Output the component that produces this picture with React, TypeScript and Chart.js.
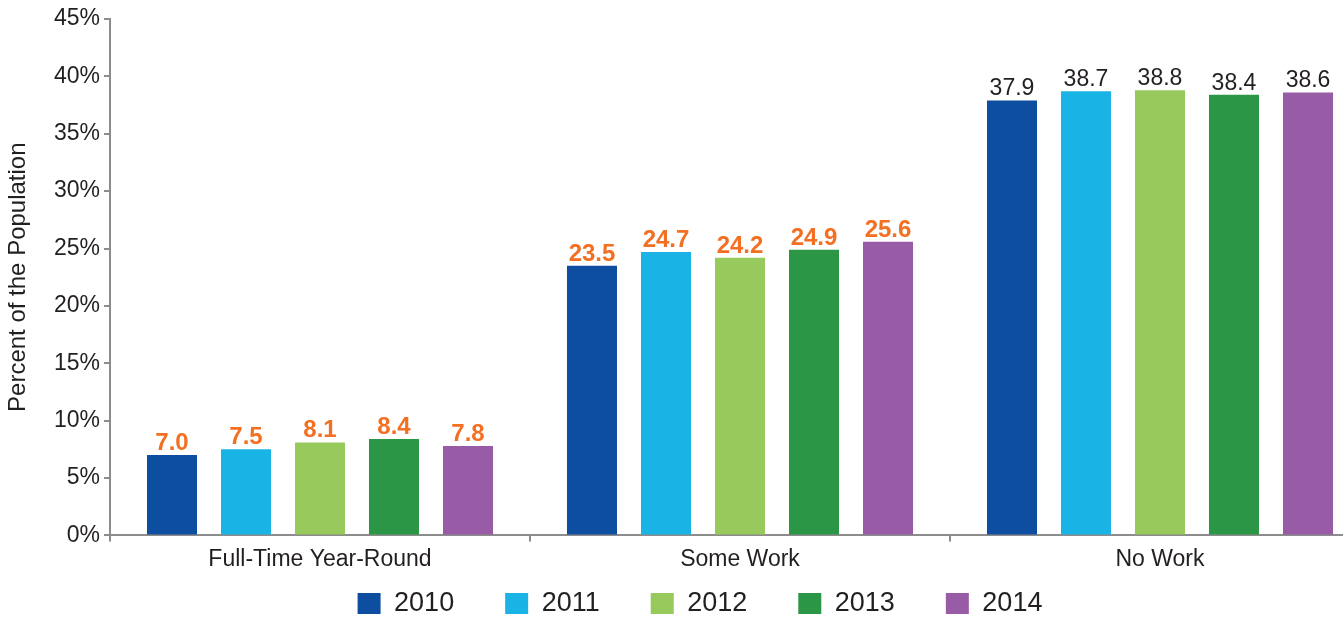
import React, { useEffect, useRef } from "react";
import { Chart, registerables } from "chart.js";

Chart.register(...registerables);

const categories = ["Full-Time Year-Round", "Some Work", "No Work"];
const years = ["2010", "2011", "2012", "2013", "2014"];
const values2010 = [7.0, 23.5, 37.9];
const values2011 = [7.5, 24.7, 38.7];
const values2012 = [8.1, 24.2, 38.8];
const values2013 = [8.4, 24.9, 38.4];
const values2014 = [7.8, 25.6, 38.6];
const seriesValues = [values2010, values2011, values2012, values2013, values2014];
const seriesColors = ["#0d4ea0", "#1ab3e6", "#97c95c", "#2c9647", "#985ca6"];
const yTicks = [0, 5, 10, 15, 20, 25, 30, 35, 40, 45];

const TEXT = "#231f20";
const AXIS = "#8c8c8c";
const ORANGE = "#f36f21";
const LEGEND_PAD = 51;

const valueLabels = {
  id: "valueLabels",
  afterDatasetsDraw(chart: any) {
    const ctx = chart.ctx;
    ctx.save();
    ctx.textAlign = "center";
    ctx.textBaseline = "alphabetic";
    chart.data.datasets.forEach((ds: any, di: number) => {
      const meta = chart.getDatasetMeta(di);
      meta.data.forEach((el: any, i: number) => {
        const v = ds.data[i];
        if (i < 2) {
          ctx.fillStyle = ORANGE;
          ctx.font = "bold 24px 'Liberation Sans', Arial, sans-serif";
        } else {
          ctx.fillStyle = TEXT;
          ctx.font = "23px 'Liberation Sans', Arial, sans-serif";
        }
        ctx.fillText(v.toFixed(1), el.x, el.y - 5);
      });
    });
    ctx.restore();
  },
};

const shiftLegend = {
  id: "shiftLegend",
  afterLayout(chart: any) {
    const lg = chart.legend;
    if (lg) {
      lg.left += 15;
      lg.right += 15;
      lg.top -= LEGEND_PAD - 13;
    }
  },
};

export default function App() {
  const ref = useRef<HTMLCanvasElement>(null);
  useEffect(() => {
    if (!ref.current) return;
    Chart.defaults.font.family = "'Liberation Sans', Arial, sans-serif";
    const chart = new Chart(ref.current, {
      type: "bar",
      data: {
        labels: categories,
        datasets: years.map((y, i) => ({
          label: y,
          data: seriesValues[i],
          backgroundColor: seriesColors[i],
          borderWidth: 0,
          categoryPercentage: 0.881,
          barPercentage: 0.676,
        })),
      },
      options: {
        responsive: false,
        animation: false,
        layout: { padding: { top: 19, right: 10, bottom: 4, left: 0 } },
        plugins: {
          legend: {
            position: "bottom",
            maxHeight: 38,
            labels: {
              boxWidth: 23,
              boxHeight: 21,
              padding: LEGEND_PAD,
              color: TEXT,
              font: { size: 27 },
            },
          },
          tooltip: { enabled: false },
        },
        scales: {
          x: {
            grid: {
              display: true,
              drawOnChartArea: false,
              drawTicks: true,
              tickLength: 6,
              color: AXIS,
              lineWidth: 2,
            },
            border: { display: true, color: AXIS, width: 2 },
            ticks: { color: TEXT, font: { size: 23 }, padding: 4 },
          },
          y: {
            min: 0,
            max: 45,
            afterFit: (s: any) => {
              s.width = 110;
            },
            afterBuildTicks: (s: any) => {
              s.ticks = yTicks.map((v) => ({ value: v }));
            },
            grid: {
              display: true,
              drawOnChartArea: false,
              drawTicks: true,
              tickLength: 6,
              color: AXIS,
              lineWidth: 2,
            },
            border: { display: true, color: AXIS, width: 2 },
            ticks: {
              color: TEXT,
              font: { size: 23 },
              padding: 4,
              callback: (v: any) => v + "%",
            },
            title: {
              display: true,
              text: "Percent of the Population",
              color: TEXT,
              font: { size: 24 },
              padding: { top: 4, bottom: 10 },
            },
          },
        },
      },
      plugins: [valueLabels, shiftLegend],
    });
    return () => chart.destroy();
  }, []);
  return (
    <div style={{ position: "fixed", left: 0, top: 0, width: 1343, height: 619, overflow: "hidden", background: "#fff" }}>
      <canvas ref={ref} width={1380} height={619} style={{ width: 1380, height: 619, display: "block" }} />
    </div>
  );
}
